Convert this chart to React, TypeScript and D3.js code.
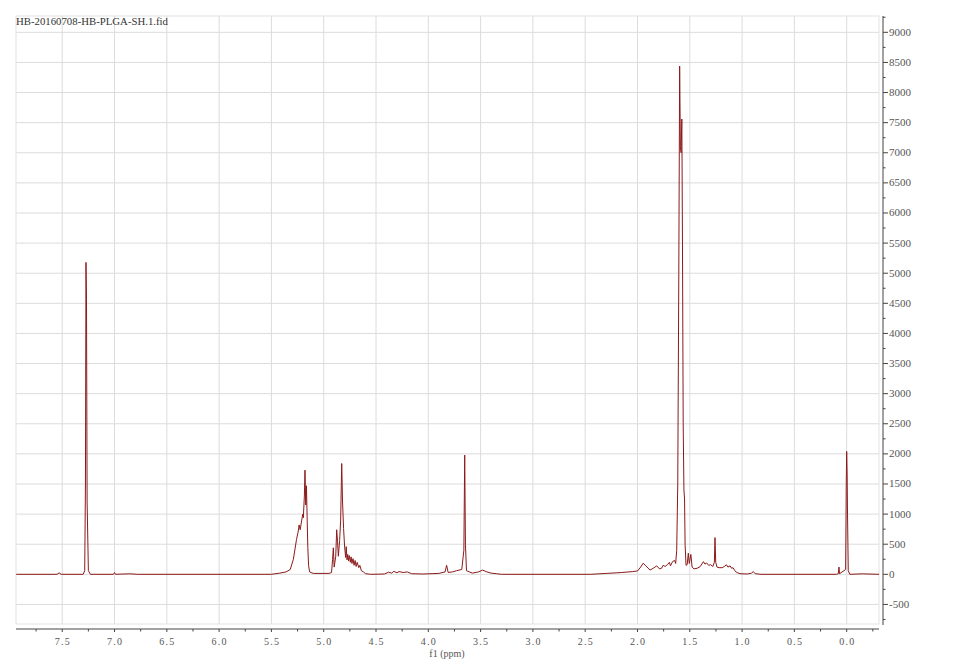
import React from "react";
import * as d3 from "d3";

const TITLE = "HB-20160708-HB-PLGA-SH.1.fid";
const X_LABEL = "f1 (ppm)";

// chemical shift (ppm) and intensity
const PPM: number[] = [
  7.94, 7.55, 7.53, 7.51, 7.3, 7.285, 7.278, 7.273, 7.268, 7.262, 7.25, 7.23,
  7.01, 7.0, 6.99, 6.92, 6.85, 6.78,
  5.5, 5.42, 5.36, 5.32, 5.29, 5.26, 5.245, 5.235, 5.225, 5.21, 5.2, 5.195, 5.185, 5.179, 5.172, 5.165, 5.158, 5.152, 5.145, 5.135, 5.1,
  4.95, 4.925, 4.915, 4.908, 4.9, 4.885, 4.876, 4.868, 4.86, 4.848, 4.838, 4.828, 4.82, 4.81, 4.8, 4.79, 4.785,
  4.777, 4.77, 4.762, 4.755, 4.745, 4.738, 4.73, 4.72, 4.71, 4.7, 4.69, 4.68, 4.665, 4.655, 4.64, 4.62, 4.6, 4.55,
  4.42, 4.38, 4.35, 4.33, 4.3, 4.28, 4.24, 4.2, 4.16, 4.05,
  3.9, 3.84, 3.825, 3.81, 3.77, 3.73, 3.68, 3.66, 3.652, 3.645, 3.635, 3.58, 3.52, 3.48, 3.44, 3.4, 3.35, 3.3,
  2.45, 2.3, 2.15, 2.05, 2.0, 1.97, 1.945, 1.92, 1.88, 1.85, 1.816, 1.79, 1.77, 1.755, 1.735, 1.71, 1.695, 1.685,
  1.665, 1.645, 1.635, 1.625, 1.615, 1.605, 1.597, 1.59, 1.583, 1.576, 1.57, 1.563, 1.556, 1.55, 1.545, 1.536,
  1.525, 1.514, 1.505, 1.49, 1.478, 1.46, 1.43, 1.4, 1.37, 1.355, 1.34, 1.32, 1.3, 1.28, 1.265, 1.259, 1.252,
  1.24, 1.22, 1.19, 1.17, 1.15, 1.135, 1.115, 1.1, 1.087, 1.07, 1.05, 1.02, 0.95, 0.91, 0.893, 0.875, 0.82,
  0.1, 0.08, 0.074, 0.068, 0.01, 0.004, 0.0, -0.004, -0.008, -0.015, -0.03, -0.15, -0.31,
];
const INTENSITY: number[] = [
  0, 0, 25, 0, 0, 60, 1500, 5180, 4560, 1200, 60, 0,
  0, 30, 0, 5, 8, 0,
  0, 20, 40, 80, 250, 580, 700, 820, 740, 900, 1000, 940, 1300, 1730, 1150, 1470, 900, 450, 150, 40, 15,
  15, 30, 250, 440, 120, 300, 740, 550, 300, 560, 900, 1840, 1200, 760, 450, 280, 460,
  240, 330, 220, 310, 200, 290, 180, 260, 150, 230, 130, 200, 110, 150, 60, 40, 10, 0,
  5, 35, 20, 50, 25, 45, 30, 40, 10, 5,
  15, 40, 150, 30, 40, 60, 80, 400, 1980, 500, 60, 20, 40, 70, 40, 20, 10, 0,
  0, 15, 30, 45, 55, 120, 185, 140, 70, 100, 140, 90, 100, 150, 130, 165, 200, 140,
  210, 230, 180, 400, 1500, 5000, 8440, 7100, 7000, 7560, 5500, 2500, 1400, 1250, 500, 150,
  160, 350, 180, 330, 120, 90, 100, 130, 210, 170, 190, 150, 160, 130, 200, 610, 200,
  120, 110, 110, 130, 160, 120, 140, 100, 110, 60, 30, 10, 5, 20, 45, 10, 0,
  0, 10, 120, 10, 80, 1500, 2040, 1700, 1000, 60, 0, 8, 0,
];

const X_MAJOR: number[] = [7.5, 7.0, 6.5, 6.0, 5.5, 5.0, 4.5, 4.0, 3.5, 3.0, 2.5, 2.0, 1.5, 1.0, 0.5, 0.0];
const X_MINOR: number[] = [7.75, 7.25, 6.75, 6.25, 5.75, 5.25, 4.75, 4.25, 3.75, 3.25, 2.75, 2.25, 1.75, 1.25, 0.75, 0.25, -0.25];
const Y_MAJOR: number[] = [-500, 0, 500, 1000, 1500, 2000, 2500, 3000, 3500, 4000, 4500, 5000, 5500, 6000, 6500, 7000, 7500, 8000, 8500, 9000];
const Y_MINOR: number[] = [-750, -250, 250, 750, 1250, 1750, 2250, 2750, 3250, 3750, 4250, 4750, 5250, 5750, 6250, 6750, 7250, 7750, 8250, 8750, 9250];

const W = 958;
const H = 661;
const L = 16;
const R = 879;
const T = 16;
const B = 624;
const FONT = "'Liberation Serif', 'DejaVu Serif', serif";
const LINE = "#8b1a1a";
const GRID = "#dcdcdc";

export default function App() {
  const x = d3.scaleLinear().domain([7.942, -0.309]).range([L, R]);
  const y = d3.scaleLinear().domain([-825, 9271]).range([B, T]);
  const pts: [number, number][] = PPM.map((p, i) => [p, INTENSITY[i]]);
  const path = d3
    .line<[number, number]>()
    .x((d) => x(d[0]))
    .y((d) => y(d[1]))(pts) as string;
  const fmtX = (v: number) => v.toFixed(1);
  const axX = R + 4;
  const axY = B + 5;
  return (
    <svg width={W} height={H} style={{ position: "absolute", left: 0, top: 0, background: "#fff" }}>
      <rect x={0} y={0} width={W} height={H} fill="#fff" />
      {X_MAJOR.map((v) => (
        <line key={"gx" + v} x1={x(v)} x2={x(v)} y1={T} y2={B} stroke={GRID} strokeWidth={1} />
      ))}
      {Y_MAJOR.map((v) => (
        <line key={"gy" + v} x1={L} x2={R} y1={y(v)} y2={y(v)} stroke={GRID} strokeWidth={1} />
      ))}
      <rect x={L} y={T} width={R - L} height={B - T} fill="none" stroke="#e2e2e2" strokeWidth={1} />
      <text x={L} y={24.5} fontFamily={FONT} fontSize={10.5} fill="#333" textLength={152} lengthAdjust="spacingAndGlyphs">
        {TITLE}
      </text>
      <path d={path} fill="none" stroke={LINE} strokeWidth={1} strokeLinejoin="round" />
      {/* x axis */}
      <line x1={L} x2={R} y1={axY} y2={axY} stroke="#444" strokeWidth={1} />
      {X_MAJOR.map((v) => (
        <g key={"tx" + v}>
          <line x1={x(v)} x2={x(v)} y1={axY} y2={axY + 3} stroke="#444" strokeWidth={1} />
          <text x={x(v)} y={644.5} textAnchor="middle" fontFamily={FONT} fontSize={10} fill="#555" textLength={15} lengthAdjust="spacing">
            {fmtX(v)}
          </text>
        </g>
      ))}
      {X_MINOR.map((v) => (
        <line key={"mx" + v} x1={x(v)} x2={x(v)} y1={axY} y2={axY + 2.5} stroke="#444" strokeWidth={1} />
      ))}
      <text x={447} y={656.5} textAnchor="middle" fontFamily={FONT} fontSize={10} fill="#555">
        {X_LABEL}
      </text>
      {/* y axis */}
      <line x1={axX} x2={axX} y1={T} y2={B + 1} stroke="#444" strokeWidth={1} />
      {Y_MAJOR.map((v) => (
        <g key={"ty" + v}>
          <line x1={axX} x2={axX + 5} y1={y(v)} y2={y(v)} stroke="#444" strokeWidth={1} />
          <text x={axX + 6} y={y(v) + 3.5} fontFamily={FONT} fontSize={11} fill="#555">
            {v < 0 ? "-" + Math.abs(v) : String(v)}
          </text>
        </g>
      ))}
      {Y_MINOR.map((v) => (
        <line key={"my" + v} x1={axX} x2={axX + 2.5} y1={y(v)} y2={y(v)} stroke="#444" strokeWidth={1} />
      ))}
    </svg>
  );
}
